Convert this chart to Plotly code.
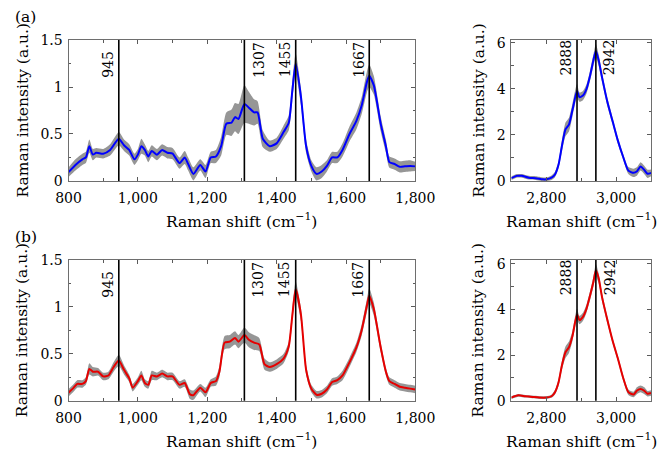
import plotly.graph_objects as go

# ---------------- data ----------------
# (a) fingerprint region, blue
xa_fp = [800,820,840,850,860,870,880,900,920,945,960,975,990,1000,1010,1020,1030,1040,1055,1070,
         1085,1100,1120,1135,1145,1160,1180,1195,1210,1225,1240,1255,1270,1280,1290,1307,1320,1335,1345,1360,
         1380,1400,1420,1435,1445,1455,1470,1485,1500,1515,1530,1545,1560,1575,1590,1610,1630,1645,1660,1667,
         1680,1700,1715,1725,1740,1755,1770,1785,1800]
ya_fp = [0.093,0.17,0.23,0.25,0.37,0.28,0.30,0.29,0.33,0.45,0.38,0.33,0.23,0.28,0.37,0.33,0.26,0.32,0.28,0.33,
         0.30,0.29,0.19,0.25,0.18,0.075,0.17,0.10,0.25,0.26,0.37,0.61,0.62,0.68,0.66,0.82,0.78,0.73,0.73,0.45,
         0.37,0.40,0.52,0.62,0.95,1.25,0.90,0.37,0.16,0.075,0.10,0.16,0.25,0.25,0.33,0.50,0.64,0.80,1.05,1.12,
         1.02,0.61,0.37,0.20,0.18,0.15,0.155,0.16,0.155]
sa_fp = [0.05,0.06,0.06,0.06,0.07,0.06,0.05,0.05,0.06,0.07,0.06,0.06,0.06,0.06,0.08,0.06,0.06,0.06,0.06,0.06,
         0.06,0.06,0.06,0.07,0.07,0.07,0.06,0.07,0.06,0.07,0.10,0.12,0.14,0.15,0.16,0.20,0.17,0.14,0.12,0.09,
         0.06,0.06,0.07,0.08,0.10,0.11,0.09,0.07,0.06,0.07,0.07,0.06,0.06,0.06,0.07,0.08,0.09,0.09,0.11,0.12,
         0.10,0.08,0.07,0.06,0.06,0.06,0.06,0.06,0.05]

# (a) high-wavenumber region, blue
xa_hw = [2700,2715,2730,2750,2770,2790,2800,2815,2825,2835,2845,2855,2865,2875,2888,2895,2905,2915,2925,2935,
         2942,2950,2960,2975,2990,3005,3020,3035,3050,3060,3070,3080,3090,3100]
ya_hw = [0.12,0.22,0.22,0.14,0.12,0.07,0.07,0.14,0.28,0.70,1.54,2.24,2.45,3.08,3.91,3.64,3.71,3.99,4.55,5.25,
         5.65,5.25,4.48,3.43,2.59,1.75,1.05,0.45,0.35,0.42,0.63,0.49,0.31,0.35]
sa_hw = [0.08,0.08,0.08,0.08,0.08,0.08,0.08,0.10,0.12,0.15,0.25,0.30,0.30,0.28,0.30,0.20,0.20,0.20,0.22,0.25,
         0.30,0.25,0.20,0.18,0.15,0.15,0.12,0.15,0.18,0.18,0.18,0.18,0.18,0.15]

# (b) fingerprint region, red
xb_fp = [800,815,825,840,850,860,870,885,900,915,930,945,960,975,985,1000,1010,1020,1030,1040,
         1055,1070,1085,1100,1120,1135,1150,1160,1180,1195,1210,1225,1235,1250,1265,1280,1290,1307,1320,1335,
         1350,1365,1380,1400,1420,1435,1445,1455,1470,1485,1500,1515,1530,1545,1560,1575,1590,1610,1630,1645,
         1660,1667,1680,1700,1715,1725,1740,1755,1770,1785,1800]
yb_fp = [0.086,0.14,0.18,0.18,0.21,0.34,0.31,0.31,0.26,0.27,0.36,0.43,0.33,0.24,0.14,0.21,0.27,0.19,0.17,0.27,
         0.26,0.29,0.26,0.26,0.17,0.19,0.07,0.06,0.14,0.09,0.19,0.21,0.31,0.62,0.63,0.67,0.63,0.70,0.65,0.62,
         0.60,0.39,0.36,0.39,0.45,0.58,0.90,1.19,0.92,0.33,0.13,0.065,0.075,0.12,0.20,0.22,0.27,0.41,0.57,0.75,
         1.01,1.12,0.98,0.57,0.31,0.21,0.18,0.15,0.14,0.13,0.12]
sb_fp = [0.04,0.04,0.04,0.04,0.04,0.06,0.05,0.04,0.04,0.04,0.05,0.06,0.05,0.04,0.04,0.04,0.05,0.04,0.04,0.05,
         0.04,0.04,0.04,0.04,0.04,0.04,0.05,0.05,0.04,0.05,0.04,0.05,0.06,0.07,0.07,0.07,0.07,0.08,0.08,0.08,
         0.07,0.06,0.05,0.05,0.05,0.05,0.07,0.08,0.07,0.05,0.04,0.04,0.04,0.04,0.04,0.04,0.05,0.05,0.05,0.06,
         0.07,0.08,0.07,0.05,0.04,0.04,0.04,0.04,0.04,0.04,0.04]

# (b) high-wavenumber region, red
xb_hw = [2700,2720,2740,2760,2780,2800,2815,2825,2835,2845,2855,2865,2875,2888,2895,2905,2915,2925,2935,2942,
         2950,2960,2975,2990,3005,3020,3035,3050,3060,3070,3080,3090,3100]
yb_hw = [0.14,0.24,0.20,0.17,0.14,0.14,0.20,0.38,0.80,1.57,2.13,2.35,2.84,3.78,3.54,3.68,4.03,4.59,5.22,5.72,
         5.37,4.52,3.54,2.63,1.85,1.01,0.38,0.28,0.45,0.52,0.45,0.31,0.34]
sb_hw = [0.06,0.06,0.06,0.06,0.06,0.06,0.07,0.10,0.15,0.20,0.25,0.25,0.22,0.25,0.18,0.18,0.18,0.20,0.22,0.28,
         0.22,0.18,0.15,0.12,0.12,0.12,0.12,0.12,0.15,0.15,0.15,0.12,0.12]

peaks_fp = [945, 1307, 1455, 1667]
peaks_hw = [2888, 2942]
peak_side = {945: "left", 1307: "right", 1455: "left", 1667: "left", 2888: "left", 2942: "right"}

panel_labels = ["(a)", "(b)"]
x_title = "Raman shift (cm<sup>−1</sup>)"
y_title = "Raman intensity (a.u.)"

# ---------------- figure ----------------
FONT = "DejaVu Serif"
BAND = "rgb(150,150,150)"
OFF = 8            # page body margin
W, H = 672 - OFF, 458 - OFF

def px_x(px):
    return (px - OFF) / W

def px_y(py):
    return 1 - (py - OFF) / H

fig = go.Figure()

panels = [
    (xa_fp, ya_fp, sa_fp, "x", "y", "rgb(0,0,255)"),
    (xa_hw, ya_hw, sa_hw, "x2", "y2", "rgb(0,0,255)"),
    (xb_fp, yb_fp, sb_fp, "x3", "y3", "rgb(230,0,0)"),
    (xb_hw, yb_hw, sb_hw, "x4", "y4", "rgb(230,0,0)"),
]
for xs, ys, ss, xa, ya, col in panels:
    lo = [y - s for y, s in zip(ys, ss)]
    hi = [y + s for y, s in zip(ys, ss)]
    fig.add_trace(go.Scatter(x=xs, y=lo, xaxis=xa, yaxis=ya, mode="lines",
                             line=dict(width=0, shape="spline", smoothing=0.6),
                             hoverinfo="skip", showlegend=False))
    fig.add_trace(go.Scatter(x=xs, y=hi, xaxis=xa, yaxis=ya, mode="lines",
                             line=dict(width=0, shape="spline", smoothing=0.6),
                             fill="tonexty", fillcolor=BAND,
                             hoverinfo="skip", showlegend=False))
    fig.add_trace(go.Scatter(x=xs, y=ys, xaxis=xa, yaxis=ya, mode="lines",
                             line=dict(color=col, width=2, shape="spline", smoothing=0.6),
                             showlegend=False))

# vertical peak lines + labels
for xa, ya, peaks, ydom in [("x", "y", peaks_fp, 0.72), ("x2", "y2", peaks_hw, 0.735),
                            ("x3", "y3", peaks_fp, 0.72), ("x4", "y4", peaks_hw, 0.735)]:
    for p in peaks:
        fig.add_shape(type="line", xref=xa, yref=ya + " domain", x0=p, x1=p, y0=0, y1=1,
                      line=dict(color="black", width=1.6), layer="above")
        side = peak_side[p]
        fig.add_annotation(x=p, y=ydom, xref=xa, yref=ya + " domain", text=str(p),
                           textangle=-90, showarrow=False,
                           xanchor="right" if side == "left" else "left",
                           yanchor="bottom",
                           xshift=-1 if side == "left" else 4,
                           font=dict(family=FONT, size=14, color="black"))

axis_common = dict(showgrid=False, zeroline=False, showline=True, linecolor="rgb(110,110,110)",
                   linewidth=1, mirror="allticks", ticks="inside", ticklen=4, tickwidth=1,
                   tickcolor="rgb(90,90,90)",
                   tickfont=dict(family=FONT, size=14, color="black"))
minor_x = dict(dtick=100, ticks="inside", ticklen=2.5, tickcolor="rgb(90,90,90)")
minor_y1 = dict(dtick=0.25, ticks="inside", ticklen=2.5, tickcolor="rgb(90,90,90)")
minor_y2 = dict(dtick=1, ticks="inside", ticklen=2.5, tickcolor="rgb(90,90,90)")

xd_left = [px_x(58), px_x(423)]
xd_right = [px_x(524), px_x(671)]
yd_top = [px_y(179), px_y(33)]
yd_bot = [px_y(407), px_y(261)]

fig.update_layout(
    width=W, height=H, margin=dict(l=0, r=0, t=0, b=0),
    paper_bgcolor="white", plot_bgcolor="white",
    separators=".,",
    xaxis=dict(domain=xd_left, anchor="y", range=[800, 1800], dtick=200, tick0=800,
               separatethousands=True, minor=minor_x, ticklabelstandoff=4, **axis_common),
    yaxis=dict(domain=yd_top, anchor="x", range=[0, 1.5], dtick=0.5,
               minor=minor_y1, ticklabelstandoff=2, **axis_common),
    xaxis2=dict(domain=xd_right, anchor="y2", range=[2700, 3100], dtick=200, tick0=2800,
                separatethousands=True, minor=minor_x, ticklabelstandoff=4, **axis_common),
    yaxis2=dict(domain=yd_top, anchor="x2", range=[0, 6.12], dtick=2,
                minor=minor_y2, ticklabelstandoff=2, **axis_common),
    xaxis3=dict(domain=xd_left, anchor="y3", range=[800, 1800], dtick=200, tick0=800,
                separatethousands=True, minor=minor_x, ticklabelstandoff=4, **axis_common),
    yaxis3=dict(domain=yd_bot, anchor="x3", range=[0, 1.5], dtick=0.5,
                minor=minor_y1, ticklabelstandoff=2, **axis_common),
    xaxis4=dict(domain=xd_right, anchor="y4", range=[2700, 3100], dtick=200, tick0=2800,
                separatethousands=True, minor=minor_x, ticklabelstandoff=4, **axis_common),
    yaxis4=dict(domain=yd_bot, anchor="x4", range=[0, 6.17], dtick=2,
                minor=minor_y2, ticklabelstandoff=2, **axis_common),
)

tf = dict(family=FONT, size=15.5, color="black")
# axis titles as annotations (paper coords)
for ycen in [220, 448]:
    for xc in [240.5, 597.5]:
        fig.add_annotation(x=px_x(xc), y=px_y(ycen), xref="paper", yref="paper", text=x_title,
                           showarrow=False, xanchor="center", yanchor="middle", font=tf)
for ycen in [106, 334]:
    for xc in [10, 489]:
        fig.add_annotation(x=px_x(xc), y=px_y(ycen), xref="paper", yref="paper", text=y_title,
                           textangle=-90, showarrow=False, xanchor="center", yanchor="middle", font=tf)
for lab, ycen in zip(panel_labels, [9, 237]):
    fig.add_annotation(x=px_x(0), y=px_y(ycen), xref="paper", yref="paper", text=lab,
                       showarrow=False, xanchor="left", yanchor="middle", font=tf)

fig.write_html("out.html")
